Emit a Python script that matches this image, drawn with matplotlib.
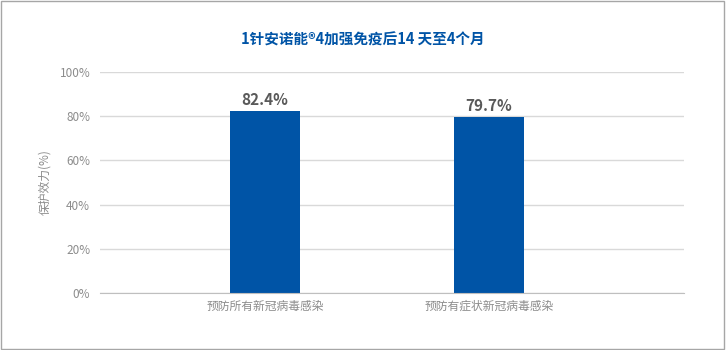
import matplotlib.pyplot as plt
from matplotlib.patches import Rectangle

plt.rcParams['font.family'] = ['Noto Sans CJK SC', 'DejaVu Sans']

# 数据
categories = ['预防所有新冠病毒感染', '预防有症状新冠病毒感染']
values = [82.4, 79.7]
value_labels = ['82.4%', '79.7%']
y_ticks = [0, 20, 40, 60, 80, 100]
y_tick_labels = ['0%', '20%', '40%', '60%', '80%', '100%']
title = '1针安诺能®4加强免疫后14 天至4个月'

fig = plt.figure(figsize=(7.26, 3.5), dpi=100)
ax = fig.add_axes([0.1377, 0.163, 0.8043, 0.631])

# 外框
fig.patches.append(Rectangle((0.002, 0.004), 0.995, 0.992, transform=fig.transFigure,
                             fill=False, edgecolor='#a6a6a6', linewidth=1))

x = list(range(len(categories)))
bars = ax.bar(x, values, width=0.31, color='#0054a6', zorder=3)

for b, lab in zip(bars, value_labels):
    ax.text(b.get_x() + b.get_width() / 2, b.get_height() + 1.2, lab,
            ha='center', va='bottom', fontsize=11, fontweight='bold', color='#595959')

ax.set_xlim(-0.737, 1.87)
ax.set_ylim(0, 100)
ax.set_yticks(y_ticks)
ax.set_yticklabels(y_tick_labels)
ax.set_xticks(x)
ax.set_xticklabels(categories)
ax.tick_params(axis='both', length=0, colors='#8c8c8c', labelsize=8.5)
ax.tick_params(axis='y', pad=7)
ax.tick_params(axis='x', pad=5)

ax.grid(axis='y', color='#d9d9d9', linewidth=1, zorder=0)
for s in ['top', 'right', 'left']:
    ax.spines[s].set_visible(False)
ax.spines['bottom'].set_color('#bfbfbf')
ax.spines['bottom'].set_zorder(4)

ax.set_ylabel('保护效力(%)', fontsize=8.5, color='#8c8c8c', labelpad=6)

fig.text(0.5, 0.888, title, ha='center', va='center', fontsize=10.5,
         fontweight='bold', color='#0054a6')

fig.savefig('out.png', dpi=100)
